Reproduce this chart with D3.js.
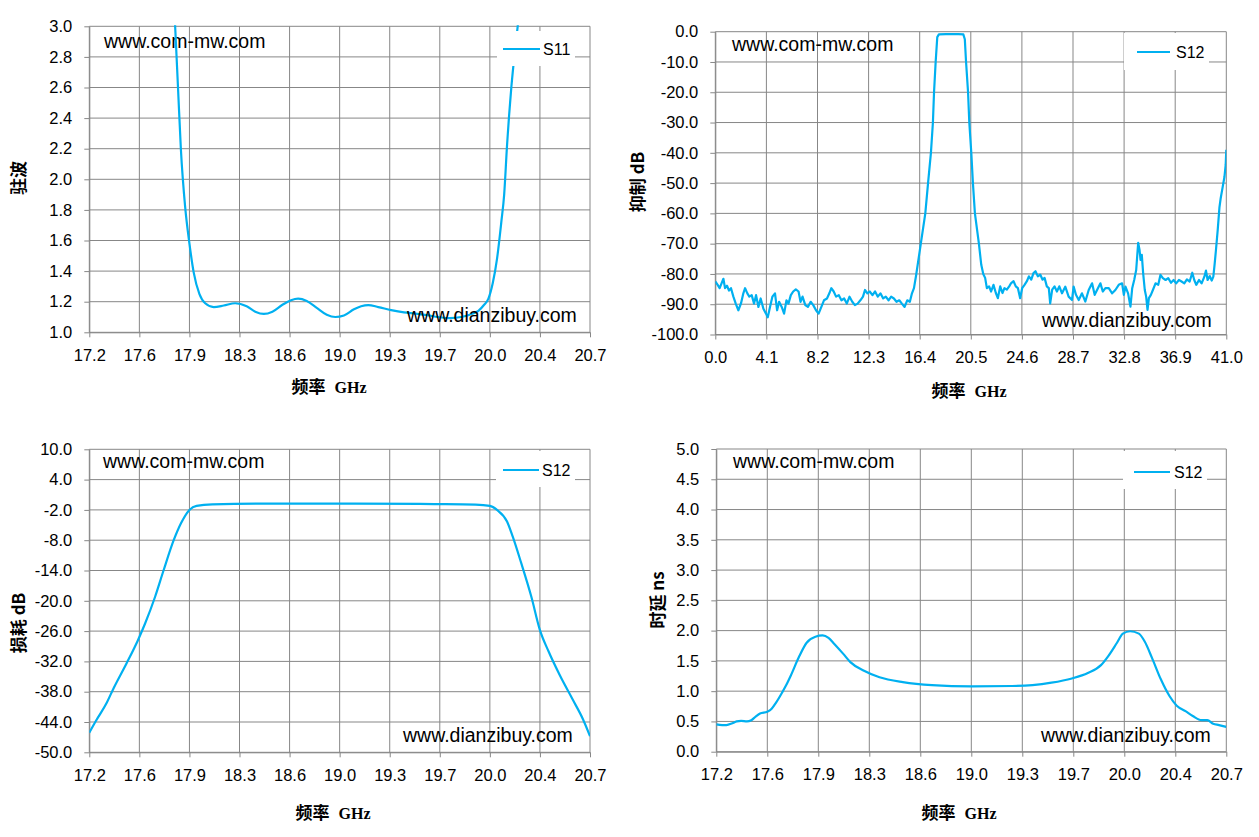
<!DOCTYPE html>
<html>
<head>
<meta charset="utf-8">
<script src="https://cdn.jsdelivr.net/npm/d3@7"></script>
<style>
  body { margin: 0; background: #fff; }
  text { font-family: "Liberation Sans", Arial, sans-serif; }
</style>
</head>
<body>
<svg id="chart" width="1259" height="837"></svg>
<script>
// ---- S11 standing wave (top left) ----
const vswrFreq = [17.76, 17.80, 17.82, 17.84, 17.87, 17.90, 17.93, 17.97, 18.01, 18.07, 18.14, 18.22, 18.30, 18.36,
  18.42, 18.48, 18.55, 18.61, 18.66, 18.72, 18.79, 18.86, 18.92, 18.98, 19.05, 19.10, 19.15, 19.22, 19.31, 19.40,
  19.48, 19.56, 19.64, 19.72, 19.80, 19.86, 19.92, 19.96, 19.99, 20.02, 20.05, 20.08, 20.10, 20.12, 20.15, 20.18,
  20.20, 20.24];
const vswrVal = [3.6, 3.0, 2.6, 2.2, 1.82, 1.58, 1.39, 1.25, 1.19, 1.165, 1.175, 1.19, 1.17, 1.135,
  1.12, 1.135, 1.18, 1.21, 1.22, 1.205, 1.16, 1.115, 1.10, 1.11, 1.15, 1.17, 1.178, 1.165, 1.145, 1.13,
  1.122, 1.112, 1.10, 1.093, 1.10, 1.115, 1.14, 1.18, 1.22, 1.32, 1.48, 1.72, 1.9, 2.22, 2.6, 2.88,
  3.05, 3.6];

// ---- S12 rejection 0-41 GHz (top right) ----
const rejFreq = [0.00, 0.19, 0.35, 0.51, 0.65, 0.78, 0.94, 1.10, 1.26, 1.45, 1.64, 1.85, 2.07, 2.25, 2.39, 2.57,
  2.73, 2.92, 3.11, 3.27, 3.46, 3.64, 3.86, 4.07, 4.21, 4.39, 4.58, 4.79, 4.96, 5.12, 5.33, 5.52, 5.71, 5.87,
  6.06, 6.25, 6.46, 6.68, 6.84, 7.00, 7.22, 7.43, 7.65, 7.86, 8.08, 8.29, 8.51, 8.72, 8.96, 9.15, 9.31, 9.50,
  9.69, 9.91, 10.12, 10.34, 10.55, 10.77, 10.99, 11.20, 11.42, 11.64, 11.85, 12.01, 12.20, 12.39, 12.61, 12.82,
  13.04, 13.25, 13.47, 13.68, 13.90, 14.11, 14.33, 14.54, 14.76, 14.97, 15.19, 15.40, 15.61, 15.78, 15.94,
  16.11, 16.49, 16.85, 17.07, 17.30, 17.46, 17.55, 17.68, 17.81, 17.94, 18.5, 19.5, 19.9, 20.02, 20.12, 20.28,
  20.38, 20.54, 20.67, 20.83, 21.15, 21.34, 21.50, 21.65, 21.79, 21.97, 22.13, 22.32, 22.51, 22.67, 22.86,
  23.04, 23.20, 23.39, 23.58, 23.74, 23.93, 24.11, 24.28, 24.46, 24.62, 24.81, 25.00, 25.16, 25.35, 25.53,
  25.69, 25.88, 26.07, 26.26, 26.42, 26.60, 26.76, 26.87, 27.03, 27.22, 27.41, 27.60, 27.82, 28.08, 28.35,
  28.62, 28.75, 28.94, 29.16, 29.42, 29.69, 29.96, 30.23, 30.44, 30.63, 30.90, 31.09, 31.30, 31.57, 31.84,
  32.10, 32.37, 32.64, 32.78, 32.91, 33.12, 33.31, 33.45, 33.61, 33.77, 33.93, 34.04, 34.12, 34.22, 34.33,
  34.46, 34.57, 34.68, 34.79, 34.95, 35.11, 35.32, 35.54, 35.72, 35.91, 36.13, 36.34, 36.56, 36.77, 36.98,
  37.20, 37.41, 37.63, 37.84, 38.06, 38.27, 38.43, 38.59, 38.81, 39.02, 39.24, 39.37, 39.50, 39.67, 39.83,
  39.96, 40.07, 40.17, 40.31, 40.45, 40.55, 40.70, 40.85, 40.95, 41.00];
const rejVal = [-82.5, -83.6, -84.7, -83.0, -81.6, -84.7, -83.9, -85.5, -84.7, -87.5, -89.8, -92.0, -89.6, -86.4, -84.7, -86.4,
  -87.5, -87.0, -89.8, -87.0, -90.9, -88.1, -91.5, -93.1, -94.3, -90.9, -87.5, -86.4, -92.0, -89.2, -90.9, -93.1, -88.7, -89.8,
  -87.0, -85.8, -85.1, -85.8, -89.2, -87.5, -90.3, -90.9, -89.2, -90.3, -92.0, -93.1, -90.9, -88.7, -88.1, -86.4, -84.7, -85.8,
  -87.5, -87.0, -88.7, -88.1, -89.8, -87.5, -89.2, -90.3, -89.8, -88.7, -87.5, -85.3, -86.4, -85.8, -87.0, -85.8,
  -87.5, -86.4, -88.1, -87.5, -88.7, -87.5, -88.1, -89.2, -88.7, -89.8, -90.9, -88.7, -89.2, -86.4, -84.7,
  -80.5, -70, -60, -50, -40, -30, -20, -10, -1.8, -0.9, -0.8, -0.8, -0.9, -2.5, -10, -20,
  -30, -40, -50, -60, -70, -77, -80, -81.3, -84.7, -84.1, -85.8, -83.6, -86.3, -88.0, -84.1,
  -86.3, -84.7, -85.2, -84.1, -83.0, -82.4, -84.1, -84.7, -88.0, -84.7, -83.6, -82.4, -80.8, -81.9, -79.7,
  -79.1, -80.8, -80.2, -81.9, -81.3, -84.1, -84.7, -89.7, -85.2, -84.1, -85.8, -84.1, -86.4, -84.2, -87.5,
  -88.6, -84.2, -86.9, -88.6, -86.4, -89.1, -85.3, -83.1, -86.9, -85.3, -83.1, -85.8, -84.7, -84.7, -86.4,
  -85.3, -83.6, -83.1, -86.9, -84.2, -86.4, -90.8, -84.7, -82.0, -78.7, -69.7, -72.1, -75.4, -73.7, -79.8,
  -85.3, -87.5, -91.9, -88.0, -86.9, -85.3, -83.1, -83.6, -80.3, -81.4, -82.0, -81.4, -82.9, -82.0, -83.1,
  -82.0, -82.5, -83.1, -81.8, -82.5, -79.6, -82.0, -83.6, -82.0, -83.1, -80.9, -78.9, -82.0, -80.7, -82.2,
  -80.9, -76.5, -72.1, -65.5, -58, -55, -51.5, -48, -44, -39];

// ---- S12 insertion loss (bottom left) ----
const lossFreq = [17.20, 17.25, 17.32, 17.37, 17.46, 17.54, 17.59, 17.66, 17.72, 17.79, 17.84, 17.90, 17.95, 18.06,
  18.50, 19.06, 19.61, 19.90, 20.00, 20.05, 20.12, 20.16, 20.22, 20.29, 20.35, 20.41, 20.49, 20.58, 20.65, 20.70];
const lossVal = [-46.1, -43.6, -40.3, -37.3, -32.4, -27.8, -24.5, -19.2, -13.9, -8.0, -4.7, -2.0, -1.2, -0.9,
  -0.75, -0.75, -0.85, -0.95, -1.2, -2.0, -4.3, -7.3, -12.6, -19.2, -25.8, -30.0, -34.8, -39.6, -43.4, -46.8];

// ---- S12 group delay (bottom right) ----
const delayFreq = [17.20, 17.24, 17.27, 17.31, 17.34, 17.37, 17.41, 17.44, 17.47, 17.50, 17.55, 17.58, 17.61, 17.65,
  17.68, 17.71, 17.77, 17.82, 17.88, 17.93, 17.97, 18.01, 18.07, 18.12, 18.21, 18.32, 18.48, 18.68, 18.95, 19.23,
  19.37, 19.50, 19.64, 19.75, 19.84, 19.89, 19.95, 19.99, 20.04, 20.10, 20.14, 20.19, 20.25, 20.31, 20.36, 20.42,
  20.47, 20.53, 20.57, 20.61, 20.65, 20.70];
const delayVal = [0.45, 0.44, 0.44, 0.47, 0.50, 0.51, 0.50, 0.52, 0.58, 0.63, 0.66, 0.71, 0.81, 0.97,
  1.10, 1.25, 1.58, 1.80, 1.90, 1.92, 1.88, 1.78, 1.62, 1.48, 1.34, 1.23, 1.15, 1.10, 1.08, 1.085,
  1.10, 1.14, 1.21, 1.30, 1.43, 1.58, 1.80, 1.95, 1.99, 1.95, 1.82, 1.55, 1.20, 0.92, 0.76, 0.67,
  0.59, 0.52, 0.52, 0.46, 0.44, 0.41];

// ---- ticks ----
const bandTicks = [17.2, 17.55, 17.9, 18.25, 18.6, 18.95, 19.3, 19.65, 20.0, 20.35, 20.7];
const bandTickLabels = ['17.2', '17.6', '17.9', '18.3', '18.6', '19.0', '19.3', '19.7', '20.0', '20.4', '20.7'];
const wideTicks = [0, 4.1, 8.2, 12.3, 16.4, 20.5, 24.6, 28.7, 32.8, 36.9, 41.0];
const wideTickLabels = ['0.0', '4.1', '8.2', '12.3', '16.4', '20.5', '24.6', '28.7', '32.8', '36.9', '41.0'];
const vswrTicks = [1.0, 1.2, 1.4, 1.6, 1.8, 2.0, 2.2, 2.4, 2.6, 2.8, 3.0];
const rejTicks = [0, -10, -20, -30, -40, -50, -60, -70, -80, -90, -100];
const lossTicks = [10, 4, -2, -8, -14, -20, -26, -32, -38, -44, -50];
const delayTicks = [0, 0.5, 1.0, 1.5, 2.0, 2.5, 3.0, 3.5, 4.0, 4.5, 5.0];

const gridColor = '#878787';
const lineColor = '#00b0f0';

const svg = d3.select('#chart');
svg.append('rect').attr('width', 1259).attr('height', 837).attr('fill', '#fff');

function drawPanel(p) {
    const x = d3.scaleLinear().domain(p.xDomain).range([p.left, p.right]);
    const y = d3.scaleLinear().domain(p.yDomain).range([p.bottom, p.top]);
    const g = svg.append('g');

    // grid
    g.append('g').selectAll('line').data(p.xTicks).join('line')
        .attr('x1', d => x(d)).attr('x2', d => x(d))
        .attr('y1', p.top).attr('y2', p.bottom)
        .attr('stroke', gridColor);
    g.append('g').selectAll('line').data(p.yTicks).join('line')
        .attr('x1', p.left).attr('x2', p.right)
        .attr('y1', d => y(d)).attr('y2', d => y(d))
        .attr('stroke', gridColor);

    // axes
    const xAxis = d3.axisBottom(x).tickValues(p.xTicks)
        .tickFormat((d, i) => p.xLabels[i])
        .tickSizeInner(5).tickSizeOuter(0).tickPadding(12);
    const yAxis = d3.axisLeft(y).tickValues(p.yTicks)
        .tickFormat(d => d.toFixed(1))
        .tickSizeInner(5).tickSizeOuter(0).tickPadding(12);
    const ax = g.append('g').attr('transform', `translate(0,${p.bottom})`).call(xAxis);
    const ay = g.append('g').attr('transform', `translate(${p.left},0)`).call(yAxis);
    [ax, ay].forEach(a => {
        a.select('.domain').attr('stroke', gridColor);
        a.selectAll('.tick line').attr('stroke', gridColor);
        a.selectAll('.tick text').attr('fill', '#000')
            .style('font-size', '16.5px').style('font-family', '"Liberation Sans", Arial, sans-serif');
    });

    // axis titles
    g.append('text')
        .attr('x', p.xTitle[0]).attr('y', p.xTitle[1])
        .attr('text-anchor', 'middle').attr('dy', '0.35em')
        .style('font-weight', 'bold')
        .call(t => {
            t.append('tspan').text('频率').style('font-family', '"Noto Sans CJK SC"').style('font-size', '17px');
            t.append('tspan').attr('dx', 9).text('GHz').style('font-family', '"Liberation Serif", serif').style('font-size', '16px');
        });
    g.append('text')
        .attr('transform', `translate(${p.yTitle[0]},${p.yTitle[1]}) rotate(-90)`)
        .attr('text-anchor', 'middle').attr('dy', '0.35em')
        .style('font-family', '"Noto Sans CJK SC"').style('font-weight', 'bold').style('font-size', '17px')
        .text(p.yTitleText);

    // watermark top
    g.append('text').attr('x', p.mark1[0]).attr('y', p.mark1[1])
        .style('font-size', '19.5px').attr('fill', '#000').text('www.com-mw.com');

    // curve
    const clipId = 'clip' + p.id;
    svg.append('clipPath').attr('id', clipId).append('rect')
        .attr('x', p.left).attr('y', p.top - 1)
        .attr('width', p.right - p.left).attr('height', p.bottom - p.top + 2);
    const line = d3.line().x(d => x(d[0])).y(d => y(d[1])).curve(p.curve);
    g.append('path').datum(d3.zip(p.xs, p.ys))
        .attr('clip-path', `url(#${clipId})`)
        .attr('fill', 'none').attr('stroke', lineColor).attr('stroke-width', 2.2)
        .attr('stroke-linejoin', 'round')
        .attr('d', line);

    // watermark bottom
    g.append('text').attr('x', p.mark2[0]).attr('y', p.mark2[1])
        .style('font-size', '19.5px').attr('fill', '#000').text('www.dianzibuy.com');

    // legend
    const lg = p.legend;
    const leg = g.append('g');
    leg.append('rect').attr('x', lg.x).attr('y', lg.y).attr('width', lg.w).attr('height', lg.h).attr('fill', '#fff');
    leg.append('line').attr('x1', lg.lx1).attr('x2', lg.lx2).attr('y1', lg.ly).attr('y2', lg.ly)
        .attr('stroke', lineColor).attr('stroke-width', 2.2);
    leg.append('text').attr('x', lg.tx).attr('y', lg.ly).attr('dy', '0.35em')
        .style('font-size', '16px').attr('fill', '#000').text(p.seriesName);
}

drawPanel({
    id: 1, left: 89.3, right: 590, top: 26.3, bottom: 332.3,
    xDomain: [17.2, 20.7], yDomain: [1.0, 3.0],
    xTicks: bandTicks, xLabels: bandTickLabels, yTicks: vswrTicks,
    xs: vswrFreq, ys: vswrVal, curve: d3.curveMonotoneX, seriesName: 'S11',
    xTitle: [329, 387], yTitle: [19, 178], yTitleText: '驻波',
    mark1: [104, 48], mark2: [407, 322],
    legend: { x: 497, y: 31, w: 78, h: 35, lx1: 503, lx2: 540, ly: 49, tx: 543 }
});
drawPanel({
    id: 2, left: 715.3, right: 1226.3, top: 31.7, bottom: 334.5,
    xDomain: [0, 41], yDomain: [-100, 0],
    xTicks: wideTicks, xLabels: wideTickLabels, yTicks: rejTicks,
    xs: rejFreq, ys: rejVal, curve: d3.curveLinear, seriesName: 'S12',
    xTitle: [969, 391], yTitle: [638, 182], yTitleText: '抑制 dB',
    mark1: [732, 51], mark2: [1042, 327],
    legend: { x: 1124, y: 33, w: 85, h: 37, lx1: 1137, lx2: 1170, ly: 52, tx: 1176 }
});
drawPanel({
    id: 3, left: 89.3, right: 590, top: 449.3, bottom: 752.3,
    xDomain: [17.2, 20.7], yDomain: [-50, 10],
    xTicks: bandTicks, xLabels: bandTickLabels, yTicks: lossTicks,
    xs: lossFreq, ys: lossVal, curve: d3.curveMonotoneX, seriesName: 'S12',
    xTitle: [333, 813], yTitle: [19, 623], yTitleText: '损耗 dB',
    mark1: [103, 468], mark2: [403, 742],
    legend: { x: 496, y: 451, w: 79, h: 36, lx1: 503, lx2: 539, ly: 470, tx: 542 }
});
drawPanel({
    id: 4, left: 716.3, right: 1226.3, top: 449, bottom: 751.7,
    xDomain: [17.2, 20.7], yDomain: [0, 5],
    xTicks: bandTicks, xLabels: bandTickLabels, yTicks: delayTicks,
    xs: delayFreq, ys: delayVal, curve: d3.curveMonotoneX, seriesName: 'S12',
    xTitle: [959, 813], yTitle: [658, 600], yTitleText: '时延 ns',
    mark1: [733, 468], mark2: [1041, 742],
    legend: { x: 1123, y: 451, w: 84, h: 38, lx1: 1134, lx2: 1170, ly: 472, tx: 1174 }
});
</script>
</body>
</html>
